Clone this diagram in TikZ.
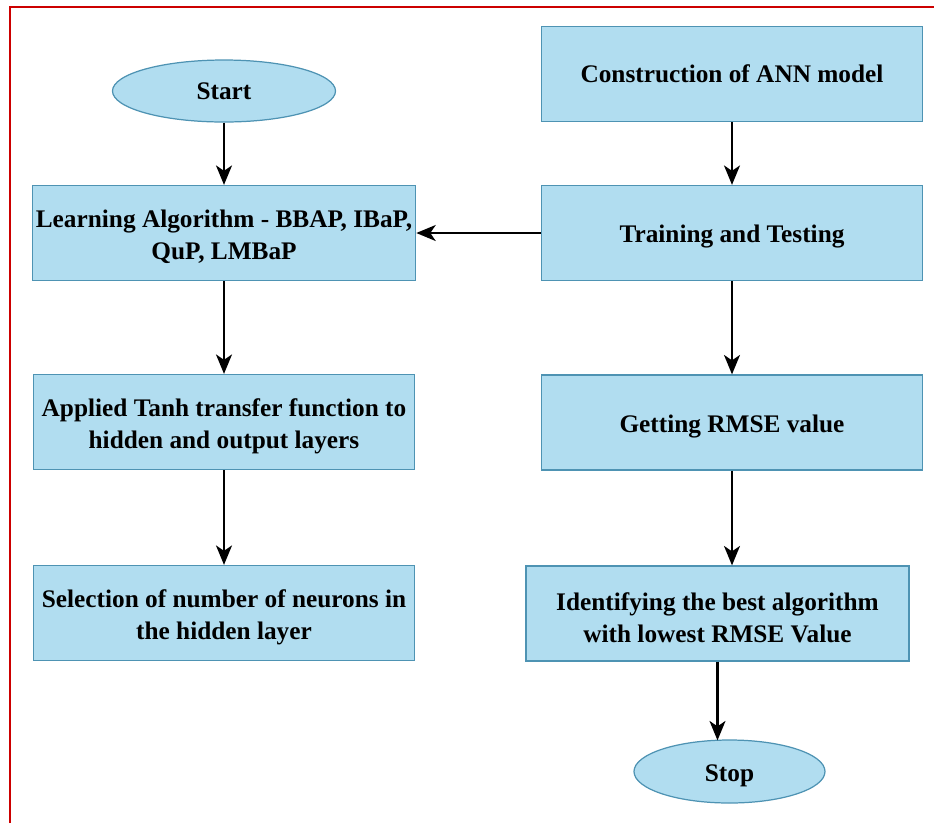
\documentclass[tikz,border=0pt]{standalone}
\usepackage{fontspec}
\setmainfont{Liberation Serif}
\usetikzlibrary{arrows.meta,shapes.geometric,calc}
\definecolor{boxfill}{HTML}{B1DDF0}
\definecolor{boxline}{HTML}{4E93B3}
\definecolor{frame}{HTML}{CC0000}
% extra room above the first line sets a label a little low in its shape
\newcommand\toproom{\rule{0pt}{14.5pt}}
\tikzset{
  px/.style={x=0.02cm,y=-0.02cm},
  procbox/.style={rectangle,draw=boxline,fill=boxfill,line width=0.7pt,
    minimum width=381*0.02cm,minimum height=95*0.02cm,align=center,
    inner sep=2pt,font=\fontsize{14.4}{18.2}\selectfont\bfseries},
  termnode/.style={ellipse,draw=boxline,fill=boxfill,line width=0.7pt,
    inner sep=0pt,font=\fontsize{14.4}{18.2}\selectfont\bfseries},
  flow/.style={draw=black,line width=1.6pt,-{Stealth[length=11pt,width=9pt,inset=3pt]}}
}
\begin{document}
\begin{tikzpicture}[px]
\useasboundingbox (0,0) rectangle (934,823);
% frame on the left and top edges
\draw[frame,line width=1.2pt] (10,823) -- (10,7) -- (934,7);

% left column
\node[termnode,minimum width=223*0.02cm,minimum height=62*0.02cm] (start) at (224,91) {Start};
\node[procbox] (learn) at (224,233) {\toproom Learning Algorithm - BBAP, IBaP,\\QuP, LMBaP};
\node[procbox] (tanh) at (224,422) {\toproom Applied Tanh transfer function to\\hidden and output layers};
\node[procbox] (neur) at (224,613) {\toproom Selection of number of neurons in\\the hidden layer};

% right column
\node[procbox] (ann) at (732,74) {Construction of ANN model};
\node[procbox] (train) at (732,233) {\toproom Training and Testing};
\node[procbox] (rmse) at (732,422.5) {\toproom Getting RMSE value};
\node[procbox,minimum width=383*0.02cm] (best) at (717.5,613.5) {\toproom Identifying the best algorithm\\with lowest RMSE Value};
\node[termnode,minimum width=191*0.02cm,minimum height=63*0.02cm] (stop) at (729.5,771.5) {\toproom Stop};

% connectors
\draw[flow] (start.south) -- (start.south |- learn.north);
\draw[flow] (learn) -- (tanh);
\draw[flow] (tanh) -- (neur);
\draw[flow] (ann) -- (train);
\draw[flow] (train.west) -- (train.west -| learn.east);
\draw[flow] (train) -- (rmse);
\draw[flow] (rmse.south) -- (rmse.south |- best.north);
\coordinate (stoptop) at ($(best.south |- stop.north)+(0,1)$);
\draw[flow] (best.south) -- (stoptop);
\end{tikzpicture}
\end{document}
